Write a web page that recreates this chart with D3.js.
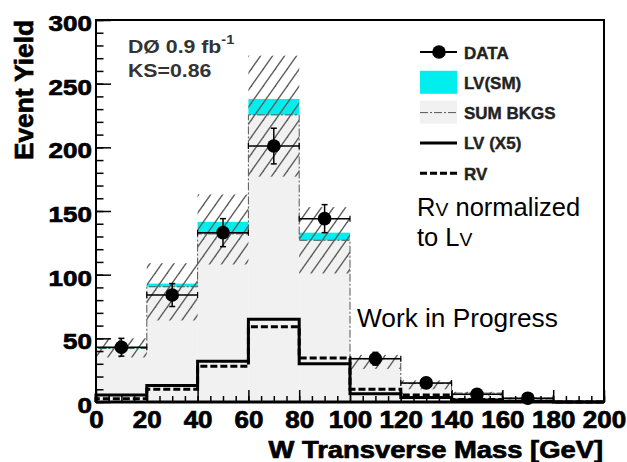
<!DOCTYPE html>
<html>
<head>
    <script src="https://d3js.org/d3.v7.js"></script>
    <style>
        body { margin: 0; background: #fff; }
        svg text { font-family: "Liberation Sans", Arial, sans-serif; }
    </style>
</head>
<body>
<svg id="chart" width="627" height="462"></svg>
<script>
    // Data (bins of 20 GeV, 0..200)
    var binEdges = [0, 20, 40, 60, 80, 100, 120, 140, 160, 180, 200];
    var sumBkgs = [42, 90.5, 132, 225.5, 127, 34, 14.5, 7, 3, 0.5];
    var lvSM = [1, 2.5, 9.5, 12.5, 6, 0.7, 0.3, 0.1, 0, 0];
    var hatchLow = [35, 64, 108, 177, 101, 26, 10, 5, 2, 0];
    var hatchHigh = [50, 109, 163, 272, 153, 37, 17, 8, 3.5, 0.5];
    var lvX5 = [5.5, 13, 32, 65, 30, 6.5, 3.5, 1.5, 0.5, 0];
    var rv = [2.5, 10, 28, 59, 34.5, 10, 5.5, 2, 0.5, 0];
    var dataVals = [43, 84, 133, 201, 144, 34, 15, 6, 3, null];
    var dataErr = [7, 9, 11, 14, 11, 5, 3.5, 2.5, 1.7, null];
    var xTicks = [0, 20, 40, 60, 80, 100, 120, 140, 160, 180, 200];
    var yTicks = [0, 50, 100, 150, 200, 250, 300];

    var svg = d3.select("#chart");
    var x = d3.scaleLinear().domain([0, 200]).range([96, 604]);
    var y = d3.scaleLinear().domain([0, 300]).range([402, 20]);

    var bins = d3.range(10).map(function (i) {
        return {
            lo: binEdges[i], hi: binEdges[i + 1], bkg: sumBkgs[i], lv: lvSM[i],
            hl: hatchLow[i], hh: hatchHigh[i], d: dataVals[i], e: dataErr[i]
        };
    });

    // hatch pattern
    var defs = svg.append("defs");
    var pat = defs.append("pattern").attr("id", "hatch")
        .attr("patternUnits", "userSpaceOnUse").attr("width", 12).attr("height", 17);
    [[0, 17, 12, 0], [-3, 4.25, 3, -4.25], [9, 21.25, 15, 12.75]].forEach(function (l) {
        pat.append("line").attr("x1", l[0]).attr("y1", l[1]).attr("x2", l[2]).attr("y2", l[3])
            .attr("stroke", "#5f5f5f").attr("stroke-width", 1.4);
    });

    // background histogram (gray fill)
    svg.append("g").selectAll("rect").data(bins).enter().append("rect")
        .attr("x", function (d) { return x(d.lo); })
        .attr("width", function (d) { return x(d.hi) - x(d.lo); })
        .attr("y", function (d) { return y(d.bkg); })
        .attr("height", function (d) { return y(0) - y(d.bkg); })
        .attr("fill", "#f1f1f1");

    // LV(SM) on top, cyan
    svg.append("g").selectAll("rect").data(bins).enter().append("rect")
        .attr("x", function (d) { return x(d.lo); })
        .attr("width", function (d) { return x(d.hi) - x(d.lo); })
        .attr("y", function (d) { return y(d.bkg + d.lv); })
        .attr("height", function (d) { return y(d.bkg) - y(d.bkg + d.lv); })
        .attr("fill", "#00eeee");

    // step helper
    function steps(vals) {
        var pts = [];
        vals.forEach(function (v, i) {
            pts.push([binEdges[i], v]);
            pts.push([binEdges[i + 1], v]);
        });
        pts.unshift([0, 0]);
        return pts;
    }
    var stepLine = d3.line()
        .x(function (d) { return x(d[0]); })
        .y(function (d) { return y(d[1]); });

    // bkg outline
    svg.append("path").attr("d", stepLine(steps(sumBkgs)))
        .attr("fill", "none").attr("stroke", "#555").attr("stroke-width", 1)
        .attr("stroke-dasharray", "8,2,2,2");

    // uncertainty hatch
    svg.append("g").selectAll("rect").data(bins).enter().append("rect")
        .attr("x", function (d) { return x(d.lo); })
        .attr("width", function (d) { return x(d.hi) - x(d.lo); })
        .attr("y", function (d) { return y(d.hh); })
        .attr("height", function (d) { return y(d.hl) - y(d.hh); })
        .attr("fill", "url(#hatch)");

    // LV (X5) and RV
    svg.append("path").attr("d", stepLine(steps(lvX5)))
        .attr("fill", "none").attr("stroke", "#000").attr("stroke-width", 3);
    svg.append("path").attr("d", stepLine(steps(rv)))
        .attr("fill", "none").attr("stroke", "#000").attr("stroke-width", 3)
        .attr("stroke-dasharray", "7,3");

    // data points
    var pts = svg.append("g").selectAll("g").data(bins.filter(function (d) { return d.d !== null; }))
        .enter().append("g");
    pts.append("line")
        .attr("x1", function (d) { return x(d.lo); }).attr("x2", function (d) { return x(d.hi); })
        .attr("y1", function (d) { return y(d.d); }).attr("y2", function (d) { return y(d.d); })
        .attr("stroke", "#000").attr("stroke-width", 1.5);
    [["lo"], ["hi"]].forEach(function (k) {
        pts.append("line")
            .attr("x1", function (d) { return x(d[k[0]]); }).attr("x2", function (d) { return x(d[k[0]]); })
            .attr("y1", function (d) { return y(d.d) - 3; }).attr("y2", function (d) { return y(d.d) + 3; })
            .attr("stroke", "#000").attr("stroke-width", 1.2);
    });
    pts.append("line")
        .attr("x1", function (d) { return x((d.lo + d.hi) / 2); }).attr("x2", function (d) { return x((d.lo + d.hi) / 2); })
        .attr("y1", function (d) { return y(d.d + d.e); }).attr("y2", function (d) { return y(d.d - d.e); })
        .attr("stroke", "#000").attr("stroke-width", 1.5);
    [1, -1].forEach(function (s) {
        pts.append("line")
            .attr("x1", function (d) { return x((d.lo + d.hi) / 2) - 3; })
            .attr("x2", function (d) { return x((d.lo + d.hi) / 2) + 3; })
            .attr("y1", function (d) { return y(d.d + s * d.e); })
            .attr("y2", function (d) { return y(d.d + s * d.e); })
            .attr("stroke", "#000").attr("stroke-width", 1.5);
    });
    pts.append("circle")
        .attr("cx", function (d) { return x((d.lo + d.hi) / 2); })
        .attr("cy", function (d) { return y(d.d); })
        .attr("r", 6.8).attr("fill", "#000");

    // axes (ticks inside the frame)
    var yMinor = svg.append("g").attr("transform", "translate(96,0)")
        .call(d3.axisLeft(y).tickValues(d3.range(0, 301, 10)).tickSize(-7.5).tickFormat(""));
    var yMajor = svg.append("g").attr("transform", "translate(96,0)")
        .call(d3.axisLeft(y).tickValues(yTicks).tickSize(-15).tickPadding(3.5));
    var xMinor = svg.append("g").attr("transform", "translate(0,402)")
        .call(d3.axisBottom(x).tickValues(d3.range(0, 201, 5)).tickSize(-6).tickFormat(""));
    var xMajor = svg.append("g").attr("transform", "translate(0,402)")
        .call(d3.axisBottom(x).tickValues(xTicks).tickSize(-12).tickFormat(d3.format("d")));
    [yMinor, yMajor, xMinor, xMajor].forEach(function (g) {
        g.select(".domain").remove();
        g.selectAll("line").attr("stroke", "#000").attr("stroke-width", 1.5);
    });
    yMajor.selectAll("text")
        .attr("font-size", 22).attr("font-weight", "bold").attr("fill", "#000")
        .attr("stroke", "#000").attr("stroke-width", 0.7)
        .attr("dy", "0.48em").attr("transform", "scale(1.18,1)");
    xMajor.selectAll("text")
        .attr("font-size", 23).attr("font-weight", "bold").attr("fill", "#000")
        .attr("stroke", "#000").attr("stroke-width", 0.7)
        .attr("y", 26).attr("dy", 0).attr("transform", "scale(1.13,1)");

    // frame
    svg.append("rect").attr("x", 96).attr("y", 20).attr("width", 508).attr("height", 382)
        .attr("fill", "none").attr("stroke", "#000").attr("stroke-width", 2);
    svg.append("line").attr("x1", 96).attr("x2", 604).attr("y1", 402).attr("y2", 402)
        .attr("stroke", "#000").attr("stroke-width", 3);

    // titles
    function label(px, py, str, size, weight, sx, anchor) {
        return svg.append("text")
            .attr("transform", "translate(" + px + "," + py + ") scale(" + sx + ",1)")
            .attr("font-size", size).attr("font-weight", weight)
            .attr("text-anchor", anchor || "start").attr("fill", "#000").text(str);
    }
    svg.append("text").attr("transform", "translate(33,90) rotate(-90)")
        .attr("text-anchor", "middle").attr("font-size", 25).attr("font-weight", "bold")
        .attr("stroke", "#000").attr("stroke-width", 0.7)
        .attr("textLength", 140).attr("lengthAdjust", "spacingAndGlyphs")
        .text("Event Yield");
    label(603, 458, "W Transverse Mass [GeV]", 23, "bold", 1.19, "end")
        .attr("stroke", "#000").attr("stroke-width", 0.7);

    var d0 = label(128, 53, "DØ 0.9 fb", 19, "bold", 1.12).attr("fill", "#333");
    d0.append("tspan").attr("dy", -9).attr("font-size", 13).text("-1");
    label(128, 77, "KS=0.86", 19, "bold", 1.12).attr("fill", "#333");

    // legend
    var legendNames = ["DATA", "LV(SM)", "SUM BKGS", "LV (X5)", "RV"];
    var leg = svg.append("g");
    legendNames.forEach(function (n, i) {
        var cy = 52 + i * 30.3;
        label(464, cy + 6.5, n, 17, "bold", 1, "start").attr("fill", "#222")
            .attr("stroke", "#222").attr("stroke-width", 0.4);
        if (i === 0) {
            leg.append("line").attr("x1", 420).attr("x2", 457).attr("y1", cy).attr("y2", cy)
                .attr("stroke", "#000").attr("stroke-width", 2);
            leg.append("circle").attr("cx", 439).attr("cy", cy).attr("r", 6.8).attr("fill", "#000");
        } else if (i === 1) {
            leg.append("rect").attr("x", 420).attr("y", cy - 11.5).attr("width", 37).attr("height", 23)
                .attr("fill", "#00eeee");
        } else if (i === 2) {
            leg.append("rect").attr("x", 420).attr("y", cy - 12).attr("width", 37).attr("height", 23)
                .attr("fill", "#f1f1f1");
            leg.append("line").attr("x1", 420).attr("x2", 457).attr("y1", cy).attr("y2", cy)
                .attr("stroke", "#555").attr("stroke-width", 1).attr("stroke-dasharray", "8,2,2,2");
        } else {
            leg.append("line").attr("x1", 420).attr("x2", 457).attr("y1", cy).attr("y2", cy)
                .attr("stroke", "#000").attr("stroke-width", 3)
                .attr("stroke-dasharray", i === 4 ? "7,3" : null);
        }
    });

    // annotations
    var rvText = label(417, 216, "R", 25, "normal", 1.02);
    rvText.append("tspan").attr("font-size", 19).text("V");
    rvText.append("tspan").text(" normalized");
    var lvText = label(417, 246, "to L", 25, "normal", 1.02);
    lvText.append("tspan").attr("font-size", 19).text("V");
    label(357, 327, "Work in Progress", 25, "normal", 1.05);
</script>
</body>
</html>
